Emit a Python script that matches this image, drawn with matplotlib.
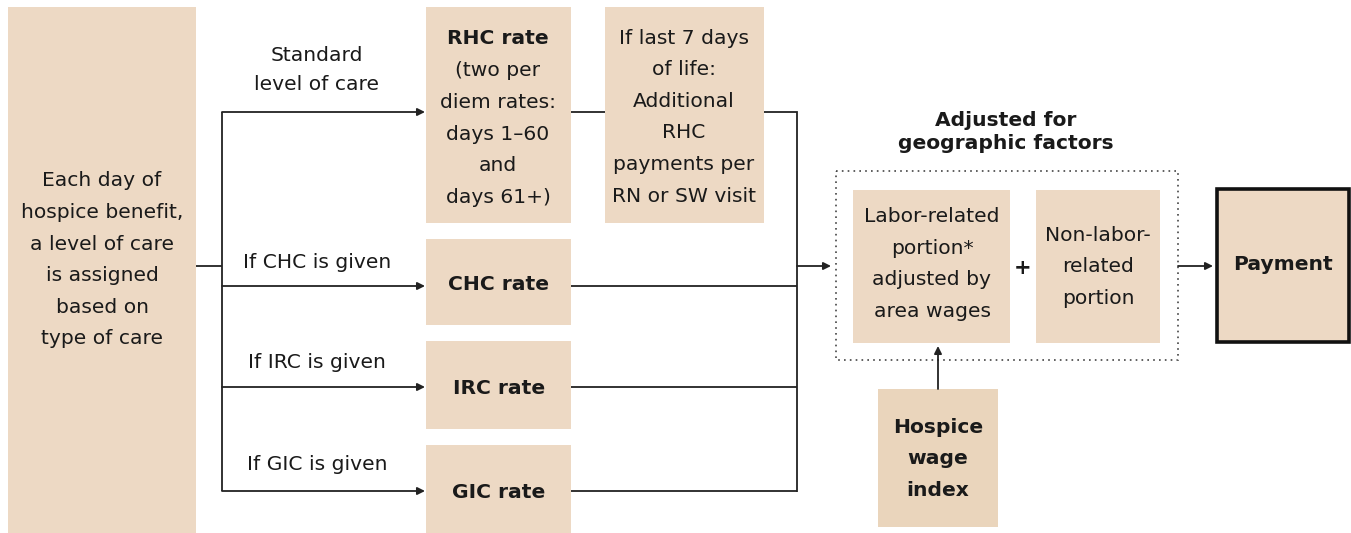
import matplotlib
matplotlib.use("Agg")
import matplotlib.pyplot as plt
from matplotlib.patches import Rectangle

# ---- text content ----
start_text = "Each day of\nhospice benefit,\na level of care\nis assigned\nbased on\ntype of care"
branch_labels = ["Standard\nlevel of care", "If CHC is given", "If IRC is given", "If GIC is given"]
rate_titles = ["RHC rate", "CHC rate", "IRC rate", "GIC rate"]
rhc_detail = "(two per\ndiem rates:\ndays 1–60\nand\ndays 61+)"
last7_text = "If last 7 days\nof life:\nAdditional\nRHC\npayments per\nRN or SW visit"
geo_title = "Adjusted for\ngeographic factors"
labor_text = "Labor-related\nportion*\nadjusted by\narea wages"
nonlabor_text = "Non-labor-\nrelated\nportion"
plus_text = "+"
payment_text = "Payment"
wage_text = "Hospice\nwage\nindex"

# ---- layout (pixel coordinates) ----
W, H = 1351, 533
FILL = "#EDD9C4"
FILL2 = "#EAD5BC"
TXT = "#1a1a1a"
FS = 14.6
LS = 1.84

fig = plt.figure(figsize=(W / 100, H / 100), dpi=100)
ax = fig.add_axes([0, 0, 1, 1])
ax.set_xlim(0, W)
ax.set_ylim(H, 0)
ax.axis("off")


def box(x0, y0, x1, y1, fc=FILL, ec="none", lw=0):
    ax.add_patch(Rectangle((x0, y0), x1 - x0, y1 - y0, facecolor=fc, edgecolor=ec, linewidth=lw))


def txt(x, y, s, bold=False, fs=FS, ls=LS):
    ax.text(x, y, s, ha="center", va="center", fontsize=fs, color=TXT,
            fontweight="bold" if bold else "normal", linespacing=ls, family="DejaVu Sans")


def line(xs, ys, lw=1.3):
    ax.plot(xs, ys, color="#222222", lw=lw, solid_capstyle="butt", solid_joinstyle="miter")


def arrow(x0, y0, x1, y1):
    ax.annotate("", xy=(x1, y1), xytext=(x0, y0),
                arrowprops=dict(arrowstyle="-|>", color="#222222", lw=1.3,
                                mutation_scale=11, shrinkA=0, shrinkB=0))


# left box
box(8, 7, 196, 533)
txt(102, 260, start_text)

# rate boxes
rate_y = [(7, 223), (239, 325), (341, 429), (445, 533)]
arrow_y = [112, 286, 387, 491]
label_y = [70, 263, 363, 465]
for i, (y0, y1) in enumerate(rate_y):
    box(426, y0, 571, y1)
# RHC text
txt(498, 39, rate_titles[0], bold=True)
txt(498, 134, rhc_detail)
for i in range(1, 4):
    txt(499, (rate_y[i][0] + rate_y[i][1]) / 2 + 3, rate_titles[i], bold=True)

# last 7 days box
box(605, 7, 764, 223)
txt(684, 117, last7_text)

# branch lines
line([196, 222], [266, 266])
line([222, 222], [arrow_y[0], arrow_y[-1]])
for i, yy in enumerate(arrow_y):
    arrow(222, yy, 425, yy)
    txt(317, label_y[i], branch_labels[i], ls=1.62)

# right-side collectors
line([571, 605], [112, 112])
line([764, 797, 797], [112, 112, 492])
for yy in arrow_y[1:]:
    line([571, 797], [yy, yy])
arrow(797, 266, 831, 266)

# geographic adjustment
txt(1006, 132, geo_title, bold=True, ls=1.32)
ax.add_patch(Rectangle((836, 171), 1178 - 836, 360 - 171, facecolor="none",
                       edgecolor="#444444", lw=1.2, linestyle=(0, (1, 2.5))))
box(853, 190, 1010, 343)
txt(932, 264, labor_text)
box(1036, 190, 1160, 343)
txt(1098, 267, nonlabor_text)
txt(1023, 268, plus_text, bold=True, fs=15)

arrow(1178, 266, 1213, 266)
box(1217, 189, 1349, 342, ec="#111111", lw=2.6)
txt(1283, 265, payment_text, bold=True)

# wage index
box(878, 389, 998, 527, fc=FILL2)
txt(938, 459, wage_text, bold=True)
arrow(938, 389, 938, 346)

fig.savefig("out.png", dpi=100, facecolor="white")
